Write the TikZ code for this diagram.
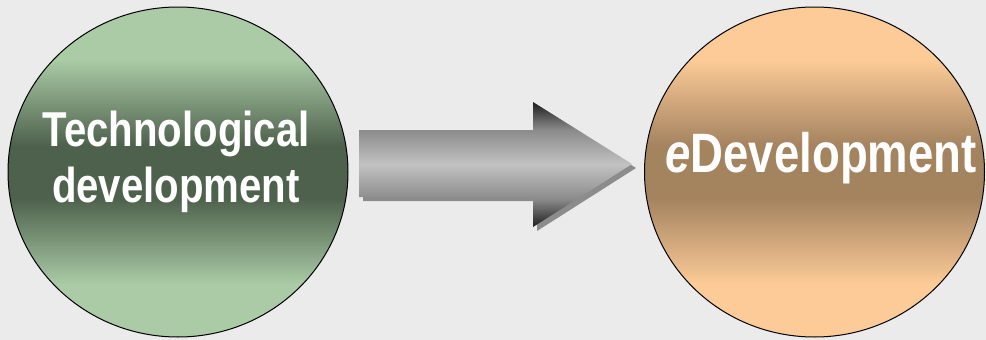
\documentclass[tikz,border=0pt]{standalone}
\usepackage{fontspec}
\setmainfont{Liberation Sans}[FakeStretch=0.82]
\newfontfamily\eitalic{Liberation Sans Bold Italic}[FakeStretch=0.82]
\usetikzlibrary{shapes.geometric}
\definecolor{bg}{HTML}{EBEBEB}
\definecolor{gl}{HTML}{AACBA6}
\definecolor{gd}{HTML}{4E614C}
\definecolor{ol}{HTML}{FCCB97}
\definecolor{od}{HTML}{A4835F}
\definecolor{ad}{HTML}{1E1E1E}
\definecolor{am}{HTML}{8A8A8A}
\definecolor{al}{HTML}{C2C2C2}
\definecolor{ash}{HTML}{8C8C8C}
\pgfdeclareverticalshading{greenband}{100bp}{color(0bp)=(gl); color(33bp)=(gl); color(46bp)=(gd); color(54bp)=(gd); color(67bp)=(gl); color(100bp)=(gl)}
\pgfdeclareverticalshading{orangeband}{100bp}{color(0bp)=(ol); color(33bp)=(ol); color(46bp)=(od); color(54bp)=(od); color(67bp)=(ol); color(100bp)=(ol)}
\pgfdeclareverticalshading{arrowband}{100bp}{color(0bp)=(ad); color(25bp)=(ad); color(36bp)=(am); color(50bp)=(al); color(64bp)=(am); color(75bp)=(ad); color(100bp)=(ad)}
\tikzset{
  disc/.style={ellipse, draw=black, line width=1pt, minimum width=340pt, minimum height=330pt, inner sep=0pt},
  label/.style={text=white, font=\bfseries, inner sep=0pt, align=center},
}
\begin{document}
\begin{tikzpicture}[x=1pt, y=-1pt]
\useasboundingbox[fill=bg] (0,0) rectangle (986,340);
% circles
\node[disc, shading=greenband] (tech) at (178,172) {};
\node[disc, shading=orangeband] (edev) at (814.5,172) {};
% arrow shadow
\fill[ash] (363,134) -- (537,134) -- (537,106) -- (636,168) -- (537,231) -- (537,201) -- (363,201) -- cycle;
% arrow
\shade[shading=arrowband] (359,130) -- (533,130) -- (533,102) -- (632,164) -- (533,227) -- (533,197) -- (359,197) -- cycle;
% texts
\node[label, font=\bfseries\fontsize{49}{56}\selectfont] (techtxt) at (176,162) {Technological\\development};
\node[label, font=\bfseries\fontsize{55.5}{60}\selectfont, anchor=base] (edevtxt) at (821,172) {{\eitalic e}Development};
\end{tikzpicture}
\end{document}
